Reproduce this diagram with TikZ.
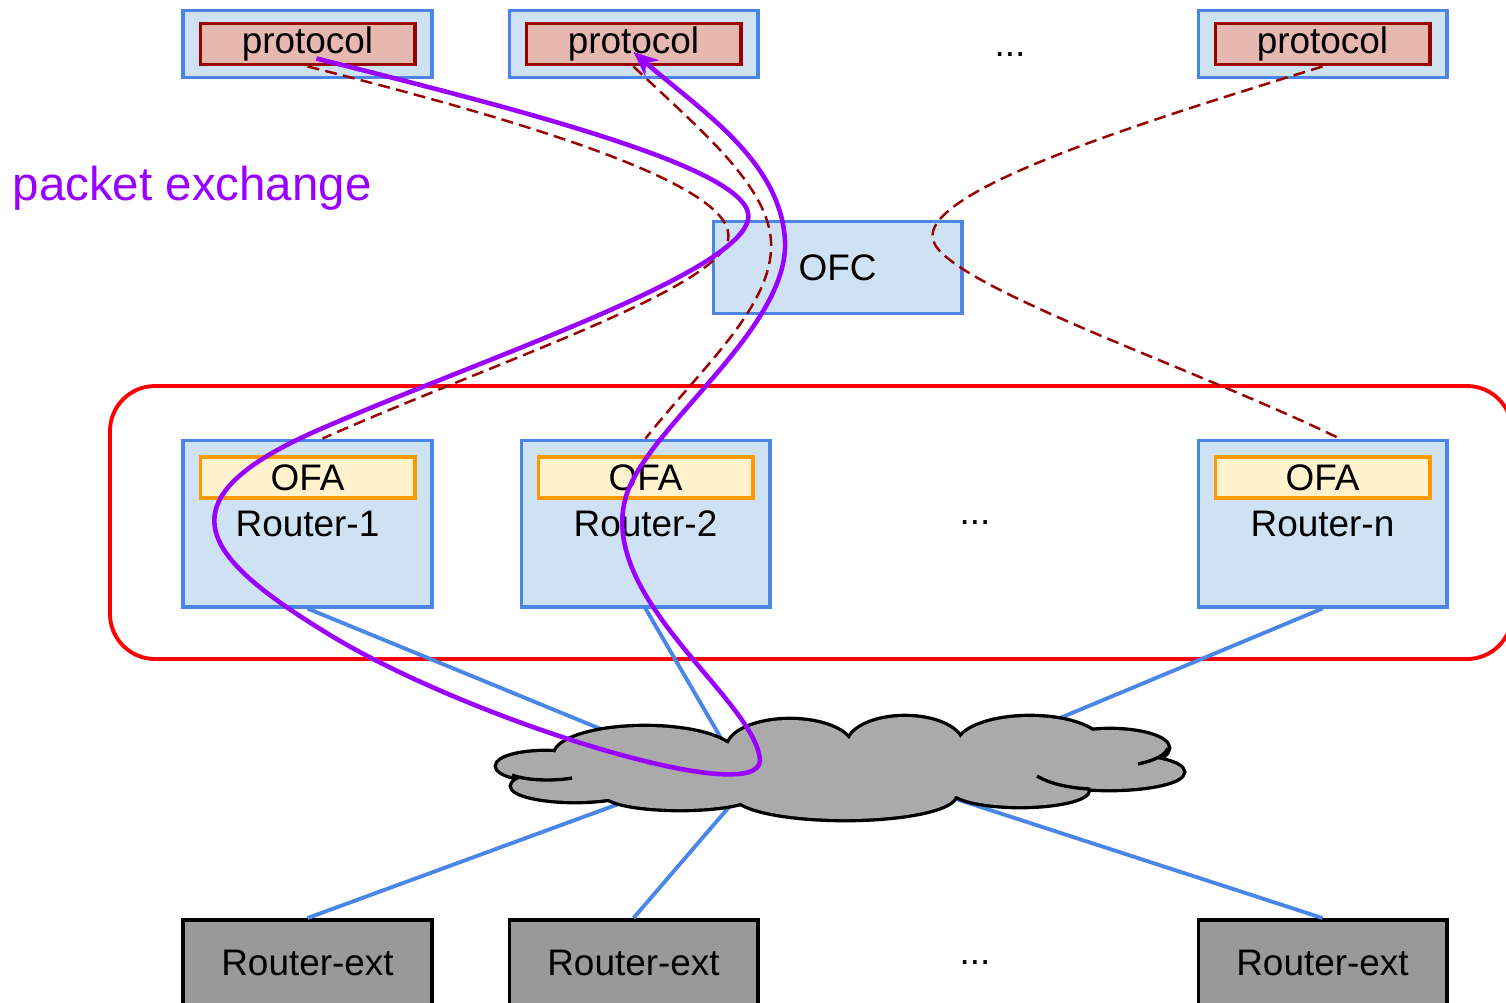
\documentclass[tikz,border=0pt]{standalone}
\usepackage{fontspec}
\setmainfont{Liberation Sans}
\usetikzlibrary{shapes,arrows.meta}
\definecolor{ofblue}{HTML}{4A86E8}
\definecolor{offill}{HTML}{CFE2F3}
\definecolor{protoline}{HTML}{990000}
\definecolor{protofill}{HTML}{E6B8AF}
\definecolor{ofaline}{HTML}{FF9900}
\definecolor{ofafill}{HTML}{FFF2CC}
\definecolor{pktpurple}{HTML}{9900FF}
\definecolor{cloudgray}{HTML}{AAAAAA}
\definecolor{extgray}{HTML}{999999}

\begin{document}
\begin{tikzpicture}[x=0.01cm,y=-0.01cm,font=\fontsize{10.5}{12}\selectfont]
   \useasboundingbox (0,0) rectangle (1506,1002);
   \tikzstyle{box}=[draw=ofblue, fill=offill, line width=1.1pt, minimum width=2.48cm, minimum height=0.67cm, inner sep=0pt]
   \tikzstyle{proto}=[draw=protoline, fill=protofill, line width=1.1pt, minimum width=2.14cm, minimum height=0.41cm, inner sep=0pt]
   \tikzstyle{ofa}=[proto, draw=ofaline, fill=ofafill]
   \tikzstyle{ext}=[draw=black, fill=extgray, line width=1.1pt, minimum width=2.48cm, minimum height=0.86cm, inner sep=0pt]
   \tikzstyle{link}=[draw=ofblue, line width=1.1pt]
   \tikzstyle{ctrl}=[draw=protoline, line width=0.7pt, dash pattern=on 3.4pt off 1.8pt]
   \tikzstyle{packet}=[draw=pktpurple, line width=1.3pt, -{Stealth[length=7pt,width=6pt]}]
   % switch group
   \draw[red, line width=1.1pt, rounded corners=0.45cm] (110,386) rectangle (1512,659);
   \node[anchor=west, inner sep=0pt, text=pktpurple, font=\fontsize{13.5}{16}\selectfont] (pkt) at (12,188) {packet exchange};
   \foreach \i/\x in {1/307.5,2/633.5,3/1322.5} {
       \node[box] (b\i) at (\x,44) {};
       \node[proto] (p\i) at (\x,44) {protocol};
       \node[ext] (x\i) at (\x,963) {Router-ext};
   }
   \foreach \i/\x/\name in {1/307.5/Router-1,2/645.5/Router-2,3/1322.5/Router-n} {
       \node[box, minimum height=1.66cm] (r\i) at (\x,523.5) {\name};
       \node[ofa] (o\i) at (\x,477.5) {OFA};
   }
   \node (dots1) at (1010,55) {...};
   \node (dots2) at (975,523) {...};
   \node (dots3) at (975,963) {...};
   \node[box, minimum height=0.92cm] (ofc) at (837.5,267.5) {OFC};
   % cloud attachment points (hidden under the cloud)
   \coordinate (net) at (838,768);
   \coordinate (net-r1) at (630,741);
   \coordinate (net-r2) at (725,745);
   \coordinate (net-r3) at (1036,728);
   \coordinate (net-x1) at (635,798);
   \coordinate (net-x2) at (735,800);
   \coordinate (net-x3) at (950,797);
   \path[link] (r1.south) -- (net-r1);
   \path[link] (r2.south) -- (net-r2);
   \path[link] (r3.south) -- (net-r3);
   \path[link] (net-x1) -- (x1.north);
   \path[link] (net-x2) -- (x2.north);
   \path[link] (net-x3) -- (x3.north);
   % cloud
   \def\puffs{545/766/48/14, 575/786/63/15, 680/794/75/15, 645/755/90/28, 790/748/62/28,
      905/745/57/28, 1030/745/72/28, 1110/748/58/18, 1109/772/74/17, 1020/790/68/16,
      845/795/110/24, 838/770/240/30}
   \foreach \cx/\cy/\rx/\ry in \puffs
       \draw[line width=1.9pt] (\cx,\cy) ellipse [x radius=\rx, y radius=\ry];
   \foreach \cx/\cy/\rx/\ry in \puffs
       \fill[cloudgray] (\cx,\cy) ellipse [x radius=\rx, y radius=\ry];
   \draw[line width=0.95pt] (512,775) .. controls (528,781) and (555,781) .. (572,778);
   \draw[line width=0.95pt] (1037,776) .. controls (1050,784) and (1070,788) .. (1090,789);
   \draw[line width=0.95pt] (1168,748) .. controls (1165,756) and (1152,761) .. (1138,764);
   % control channels
   \path[ctrl] (p1.south) .. controls (520,120) and (740,185) .. (728,240)
       .. controls (715,290) and (500,360) .. ([xshift=0.15cm]r1.north);
   \path[ctrl] (p2.south) .. controls (700,130) and (775,190) .. (771,250)
       .. controls (768,310) and (700,370) .. (r2.north);
   \path[ctrl] (p3.south) .. controls (1150,120) and (920,190) .. (933,240)
       .. controls (945,285) and (1200,370) .. ([xshift=0.17cm]r3.north);
   % packet path
   \path[packet] ([xshift=0.09cm,yshift=0.08cm]p1.south) .. controls (520,110) and (760,170) .. (748,220)
       .. controls (735,275) and (480,360) .. (330,425)
       .. controls (150,500) and (204,558) .. (330,635)
       .. controls (470,720) and (760,810) .. (760,760)
       .. controls (755,700) and (600,600) .. (625,500)
       .. controls (642,430) and (790,330) .. (785,240)
       .. controls (780,160) and (700,110) .. ([yshift=-0.08cm]p2.center);
\end{tikzpicture}
\end{document}
